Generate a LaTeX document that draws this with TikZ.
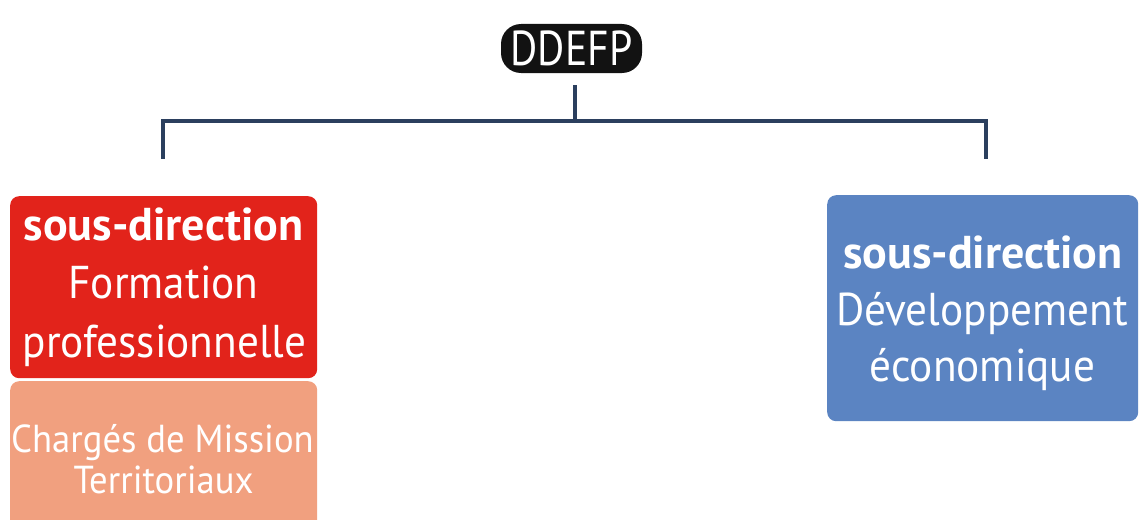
\documentclass[tikz,border=0pt]{standalone}
\usepackage{fontspec}
\setmainfont{PT Sans}
\newfontfamily\narrowfont[FakeStretch=0.94]{PT Sans}
\newfontfamily\headfont[FakeStretch=0.85]{PT Sans}
\definecolor{ddred}{HTML}{E2231B}
\definecolor{ddsalmon}{HTML}{F1A07F}
\definecolor{ddblue}{HTML}{5B84C2}
\definecolor{ddnavy}{HTML}{2B3F5E}
\definecolor{ddblack}{HTML}{121212}
\tikzset{
  unitbox/.style={draw=none, rounded corners=9pt, inner sep=0pt, anchor=north west},
  boldline/.style={text=white, anchor=base, inner sep=0pt, font=\bfseries\fontsize{46}{50}\selectfont},
  plainline/.style={text=white, anchor=base, inner sep=0pt, font=\narrowfont\fontsize{46}{50}\selectfont},
  smallline/.style={text=white, anchor=base, inner sep=0pt, font=\narrowfont\fontsize{39}{44}\selectfont},
  branch/.style={draw=ddnavy, line width=4pt},
}
\begin{document}
\begin{tikzpicture}[x=1pt, y=-1pt]
\useasboundingbox (0,0) rectangle (1139,519);
\clip (0,0) rectangle (1139,519);

% head of the structure
\node[fill=ddblack, rounded corners=20pt, minimum width=141pt, minimum height=49pt, inner sep=0pt,
      text=white, font=\headfont\fontsize{49}{50}\selectfont] (head) at (571.5,48.5) {DDEFP};

% sub-directorates
\node[unitbox, fill=ddred, minimum width=307pt, minimum height=182pt] (formation) at (10,196) {};
\node[unitbox, fill=ddsalmon, minimum width=307pt, minimum height=160pt] (cmt) at (10,381) {};
\node[unitbox, fill=ddblue, minimum width=311pt, minimum height=226pt] (dev) at (827,195) {};

% labels
\node[boldline] (f1) at (163.5,240) {sous-direction};
\node[plainline] (f2) at (163.5,298) {Formation};
\node[plainline] (f3) at (164.5,357) {professionnelle};
\node[smallline] (c1) at (162.5,452) {Chargés de Mission};
\node[smallline] (c2) at (163.5,493) {Territoriaux};
\node[boldline] (d1) at (983,268) {sous-direction};
\node[plainline] (d2) at (982,325) {Développement};
\node[plainline] (d3) at (982.5,381) {économique};

% connectors
\coordinate (top) at (575,85);
\coordinate (hub) at (575,121);
\coordinate (lft) at (163,157);
\coordinate (rgt) at (986,157);
\draw[branch] (top) -- (hub);
\draw[branch, line cap=rect] (hub) -| (lft);
\draw[branch, line cap=rect] (hub) -| (rgt);
\end{tikzpicture}
\end{document}
